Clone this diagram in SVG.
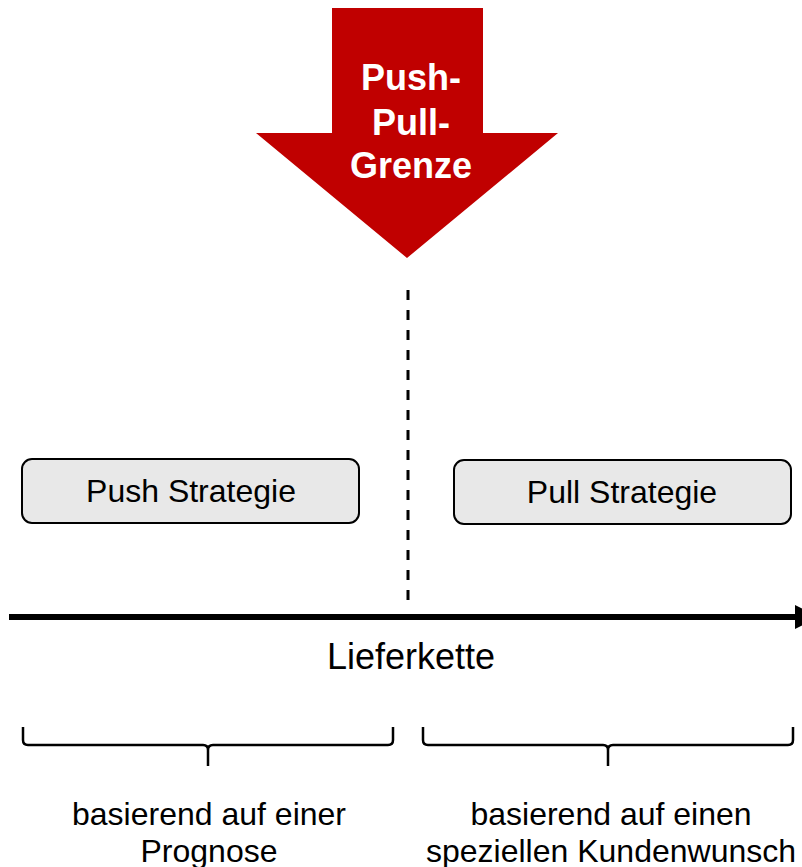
<svg xmlns="http://www.w3.org/2000/svg" width="802" height="867" viewBox="0 0 802 867">
<style>
.t{font-family:"Liberation Sans",Arial,sans-serif;fill:#000;text-anchor:middle}
.box{fill:#e8e8e8;stroke:#000;stroke-width:2}
.brace{fill:none;stroke:#000;stroke-width:2.5;stroke-linejoin:round}
</style>
<defs>
<marker id="ah" markerWidth="4" markerHeight="4" refX="0" refY="2" orient="auto" markerUnits="strokeWidth">
<path d="M0,0 L4,2 L0,4 Z" fill="#000"/>
</marker>
</defs>
<rect width="802" height="867" fill="#fff"/>
<g id="grenze">
<path d="M332,8 H483 V133 H558 L407,258 L256,133 H332 Z" fill="#c00000"/>
<text class="t" x="411" y="90" font-size="36" font-weight="bold" style="fill:#fff">Push-</text>
<text class="t" x="411" y="135" font-size="36" font-weight="bold" style="fill:#fff">Pull-</text>
<text class="t" x="411" y="178" font-size="36" font-weight="bold" style="fill:#fff">Grenze</text>
</g>
<g id="connectors">
<line x1="408" y1="290" x2="408" y2="600" stroke="#000" stroke-width="3" stroke-dasharray="10,10"/>
<line x1="9" y1="617" x2="795" y2="617" stroke="#000" stroke-width="6" marker-end="url(#ah)"/>
</g>
<g id="push">
<rect class="box" x="22" y="459" width="337" height="64" rx="10"/>
<text class="t" x="191" y="502" font-size="32">Push Strategie</text>
</g>
<g id="pull">
<rect class="box" x="454" y="460" width="337" height="64" rx="10"/>
<text class="t" x="622" y="503" font-size="32">Pull Strategie</text>
</g>
<g id="lieferkette">
<text class="t" x="411" y="669" font-size="36">Lieferkette</text>
</g>
<g id="brace-left">
<path class="brace" d="M23,727 V740 Q23,745 28,745 H203 Q208,745 208,750 V766 M208,750 Q208,745 213,745 H388 Q393,745 393,740 V727"/>
</g>
<g id="brace-right">
<path class="brace" d="M423,727 V740 Q423,745 428,745 H603 Q608,745 608,750 V766 M608,750 Q608,745 613,745 H788 Q793,745 793,740 V727"/>
</g>
<g id="text-push">
<text class="t" x="209" y="825" font-size="32">basierend auf einer</text>
<text class="t" x="209" y="862" font-size="32">Prognose</text>
</g>
<g id="text-pull">
<text class="t" x="611" y="825" font-size="32">basierend auf einen</text>
<text class="t" x="611" y="862" font-size="32">speziellen Kundenwunsch</text>
</g>
</svg>
